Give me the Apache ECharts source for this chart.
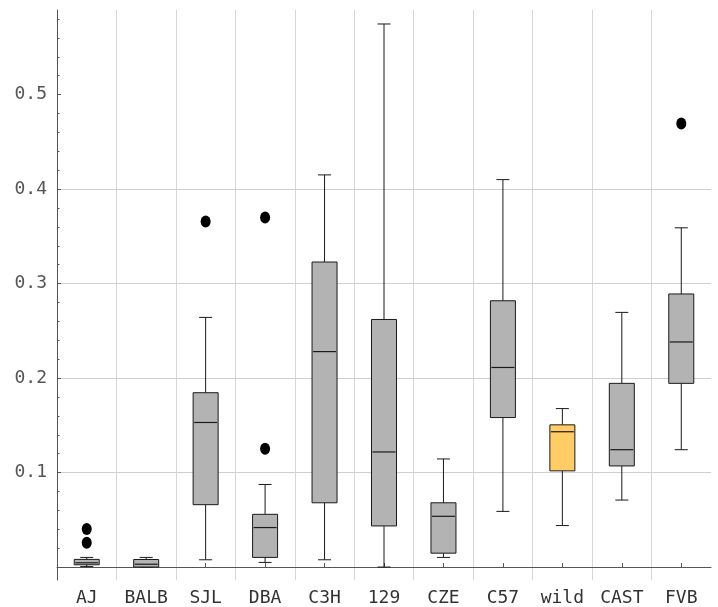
<!DOCTYPE html>
<html>
<head>
<meta charset="utf-8">
<script src="https://cdn.jsdelivr.net/npm/echarts@6/dist/echarts.min.js"></script>
<style>
html,body{margin:0;padding:0;background:#fff;}
#chart{width:718px;height:607px;}
</style>
</head>
<body>
<div id="chart"></div>
<script>
// Categories (strains)
const categories = ['AJ', 'BALB', 'SJL', 'DBA', 'C3H', '129', 'CZE', 'C57', 'wild', 'CAST', 'FVB'];
// Box statistics per category
const whiskerLow  = [0.0005, 0.000, 0.0077, 0.0049, 0.0077, 0.000, 0.0102, 0.0589, 0.0439, 0.0709, 0.1242];
const quartile1   = [0.0024, 0.000, 0.066,  0.0102, 0.068,  0.0435, 0.0147, 0.1582, 0.1018, 0.107,  0.1944];
const medians     = [0.0045, 0.003, 0.153,  0.0418, 0.228,  0.1218, 0.0537, 0.2112, 0.1432, 0.1242, 0.2382];
const quartile3   = [0.0081, 0.008, 0.1845, 0.0558, 0.3228, 0.262,  0.068,  0.2818, 0.1505, 0.1944, 0.289];
const whiskerHigh = [0.0102, 0.0102, 0.2642, 0.0874, 0.415, 0.5747, 0.1144, 0.410, 0.1677, 0.2695, 0.359];
// Outliers: [category, value]
const outlierCats   = ['AJ', 'AJ', 'SJL', 'DBA', 'DBA', 'FVB'];
const outlierValues = [0.0403, 0.0256, 0.3656, 0.370, 0.1253, 0.4695];
// Y ticks and labels
const yTickValues = [0, 0.1, 0.2, 0.3, 0.4, 0.5];
const yLabelValues = [0.1, 0.2, 0.3, 0.4, 0.5];
const highlightCategory = 'wild';

const FONT = 'DejaVu Sans Mono';
const boxData = categories.map((c, i) => [i, whiskerLow[i], quartile1[i], medians[i], quartile3[i], whiskerHigh[i]]);
const outlierData = outlierCats.map((c, i) => [categories.indexOf(c), outlierValues[i]]);

const chart = echarts.init(document.getElementById('chart'), null, {renderer: 'canvas'});

function renderBox(params, api) {
  const idx = api.value(0);
  const lo = api.coord([idx, api.value(1)]);
  const q1 = api.coord([idx, api.value(2)]);
  const md = api.coord([idx, api.value(3)]);
  const q3 = api.coord([idx, api.value(4)]);
  const hi = api.coord([idx, api.value(5)]);
  const x = lo[0];
  const bw = 25, cw = 13;
  const fill = categories[idx] === highlightCategory ? '#ffcc66' : '#b3b3b3';
  const ls = {stroke: '#1a1a1a', lineWidth: 1};
  return {
    type: 'group',
    children: [
      {type: 'line', shape: {x1: x, y1: lo[1], x2: x, y2: q1[1]}, style: ls},
      {type: 'line', shape: {x1: x, y1: q3[1], x2: x, y2: hi[1]}, style: ls},
      {type: 'line', shape: {x1: x - cw / 2, y1: lo[1], x2: x + cw / 2, y2: lo[1]}, style: ls},
      {type: 'line', shape: {x1: x - cw / 2, y1: hi[1], x2: x + cw / 2, y2: hi[1]}, style: ls},
      {type: 'rect', shape: {x: x - bw / 2, y: q3[1], width: bw, height: q1[1] - q3[1]},
       style: {fill: fill, stroke: '#1a1a1a', lineWidth: 1}},
      {type: 'line', shape: {x1: x - bw / 2 + 1, y1: md[1], x2: x + bw / 2 - 1, y2: md[1]}, style: {stroke: '#1a1a1a', lineWidth: 1.2}}
    ]
  };
}

chart.setOption({
  animation: false,
  backgroundColor: '#fff',
  grid: {left: 57, right: 7, top: 10, bottom: 24, containLabel: false},
  xAxis: {
    type: 'category',
    data: categories,
    boundaryGap: true,
    axisLine: {onZero: true, lineStyle: {color: '#555', width: 1}},
    axisTick: {show: true, inside: true, alignWithLabel: true, length: 4, lineStyle: {color: '#555'}},
    axisLabel: {fontFamily: FONT, fontSize: 18, color: '#333', margin: 9, interval: 0},
    splitLine: {show: true, showMinLine: false, showMaxLine: false, lineStyle: {color: '#d6d6d6', width: 1}}
  },
  yAxis: {
    type: 'value',
    min: -0.0137,
    max: 0.5895,
    minInterval: 0.1,
    maxInterval: 0.1,
    splitNumber: 6,
    axisLine: {show: true, lineStyle: {color: '#555', width: 1}},
    axisTick: {show: true, inside: true, length: 4, customValues: yTickValues, lineStyle: {color: '#555'}},
    minorTick: {show: true, splitNumber: 5, length: 2.5, lineStyle: {color: '#555'}},
    axisLabel: {
      fontFamily: FONT, fontSize: 18, color: '#555', margin: 10,
      customValues: yLabelValues,
      formatter: function (v) { return v.toFixed(1); }
    },
    splitLine: {show: true, showMinLine: false, showMaxLine: false, lineStyle: {color: '#cfcfcf', width: 1}}
  },
  series: [
    {
      type: 'custom',
      renderItem: renderBox,
      data: boxData,
      encode: {x: 0, y: [1, 2, 3, 4, 5]},
      z: 3
    },
    {
      type: 'scatter',
      data: outlierData,
      symbol: 'circle',
      symbolSize: [10, 12],
      itemStyle: {color: '#000', opacity: 1},
      z: 4
    }
  ]
});
</script>
</body>
</html>
